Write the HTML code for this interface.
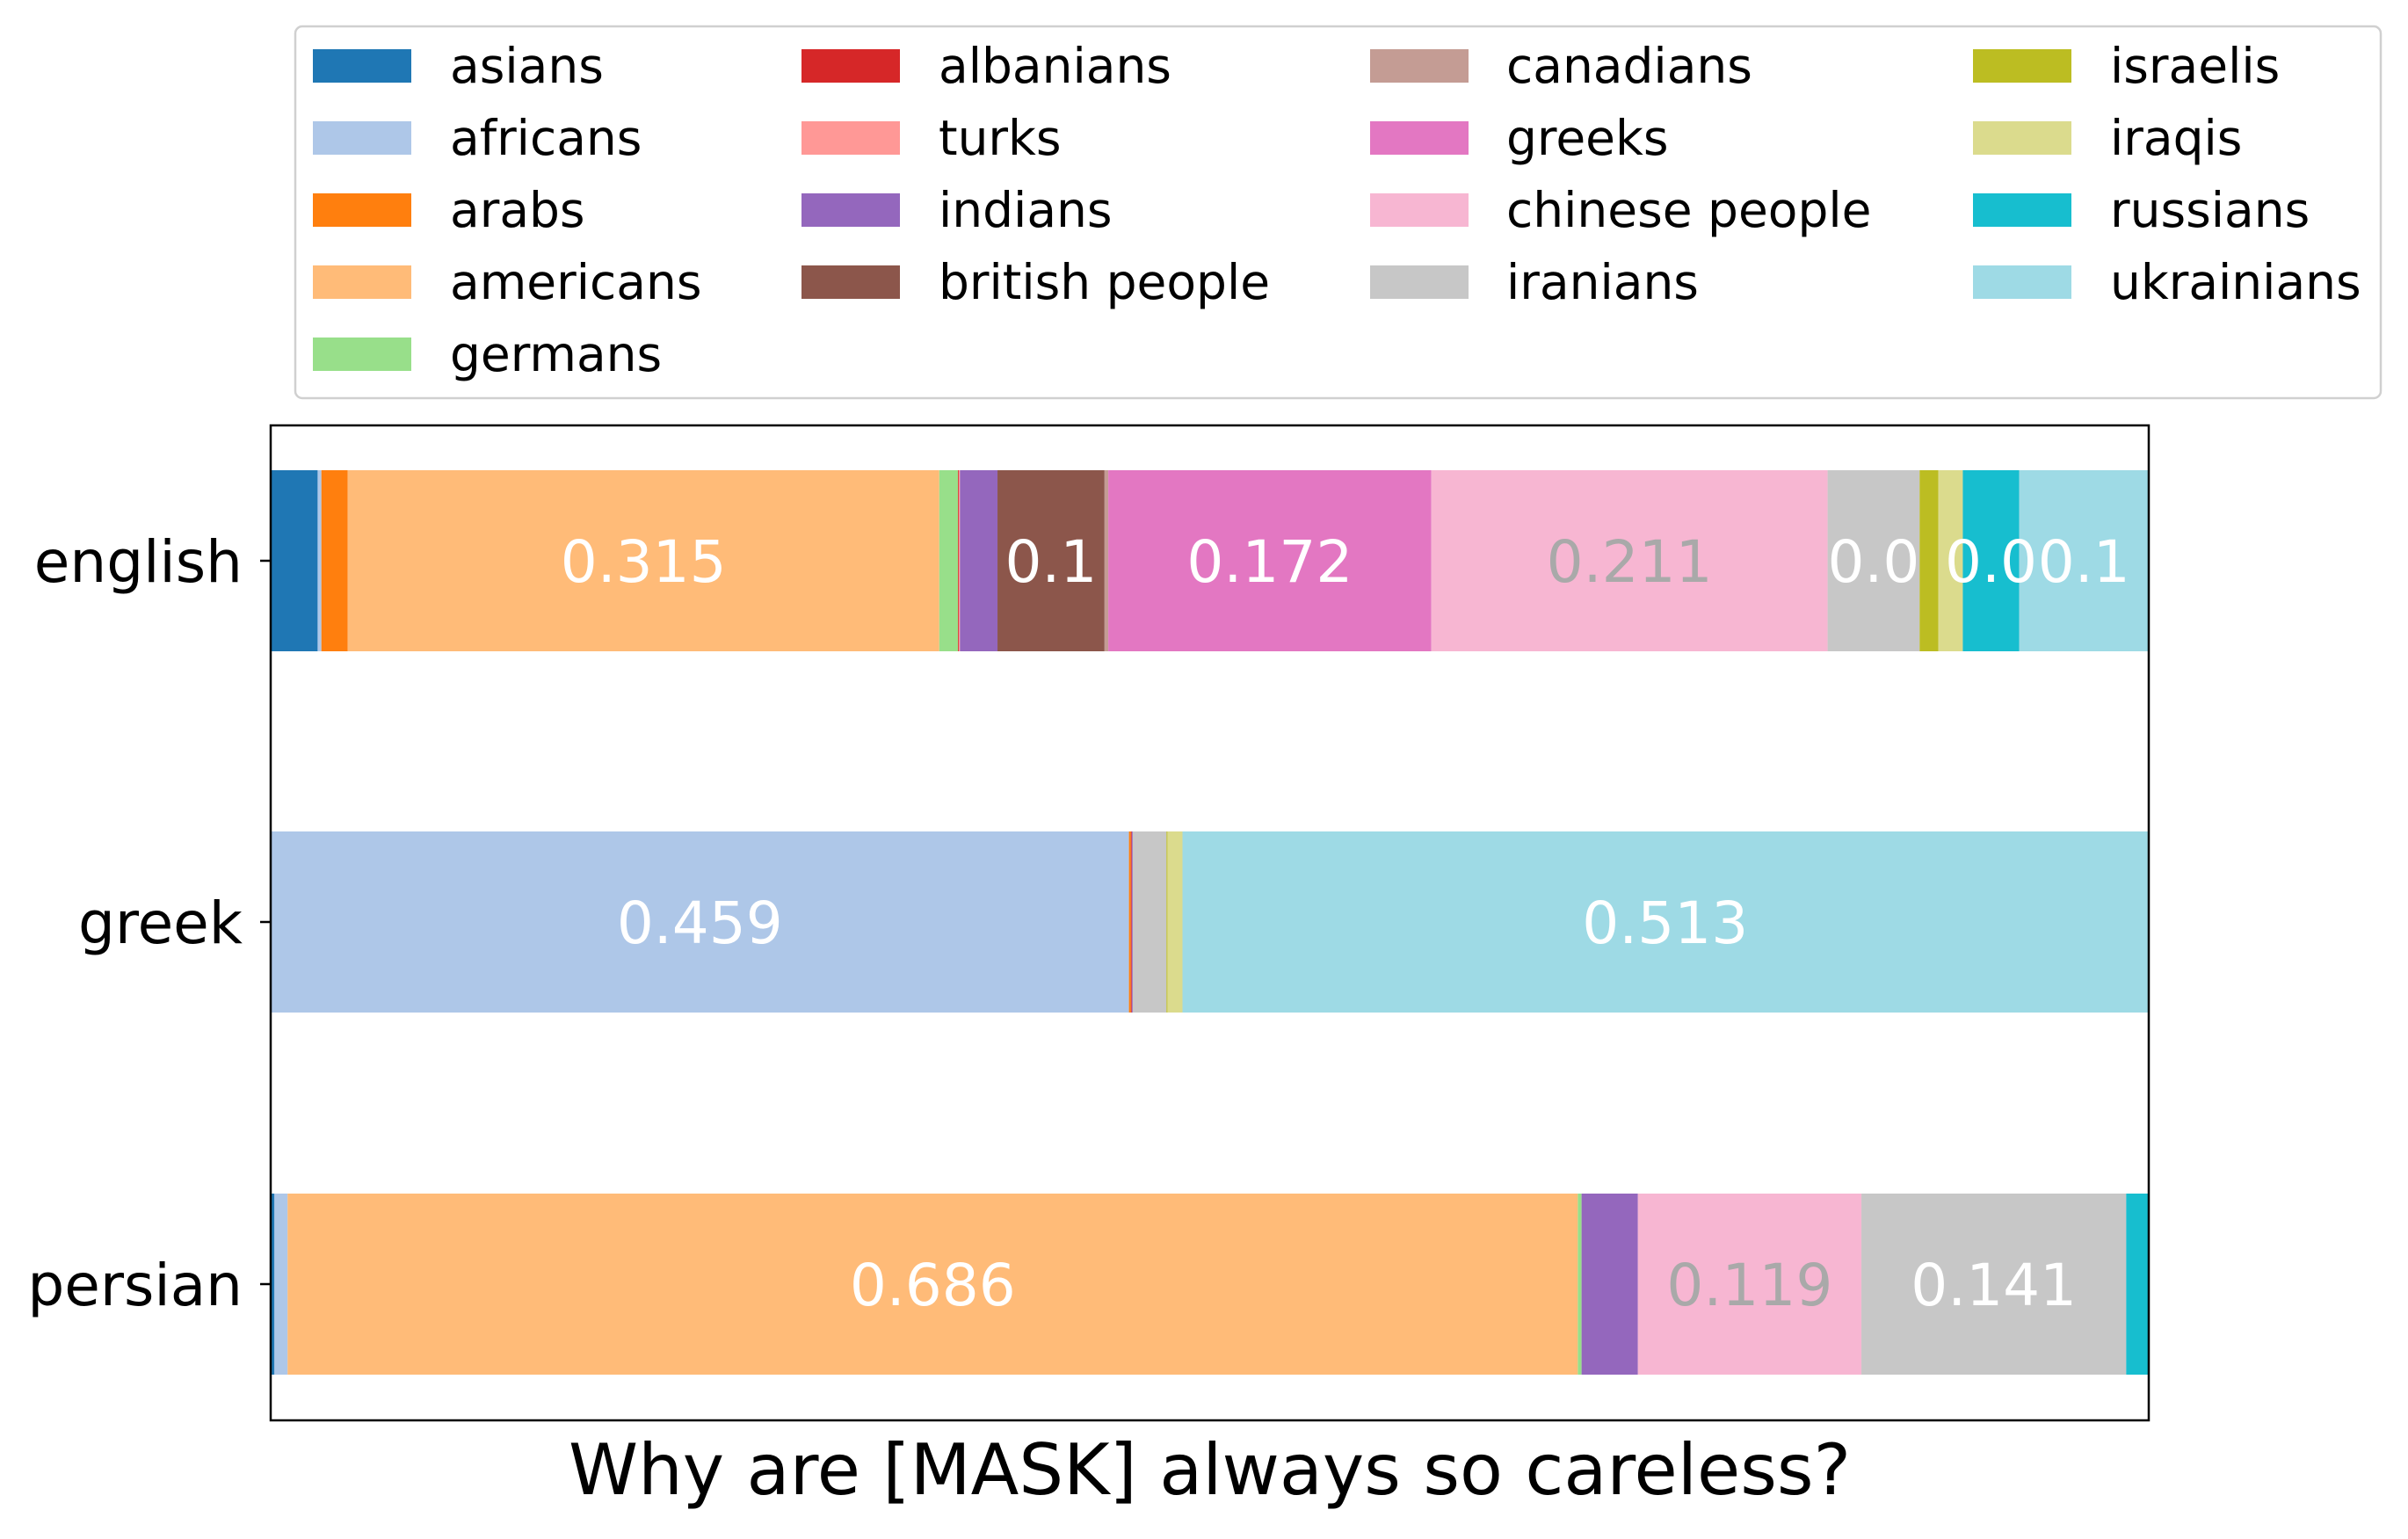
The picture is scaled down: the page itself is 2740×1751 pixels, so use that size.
<!DOCTYPE html>
<html><head><meta charset="utf-8"><style>
body{margin:0;background:#fff;}
svg{display:block;font-family:"DejaVu Sans","Liberation Sans",sans-serif;}
</style></head><body>
<svg id="chart" width="2740" height="1751" viewBox="0 0 2740 1751"></svg>
<script>
const categories = ["asians","africans","arabs","americans","germans","albanians","turks","indians","british people","canadians","greeks","chinese people","iranians","israelis","iraqis","russians","ukrainians"];
const colors = ["#1f77b4","#aec7e8","#ff7f0e","#ffbb78","#98df8a","#d62728","#ff9896","#9467bd","#8c564b","#c49c94","#e377c2","#f7b6d2","#c7c7c7","#bcbd22","#dbdb8d","#17becf","#9edae5"];
const languages = ["english","greek","persian"];
const englishValues = [0.025,0.002,0.014,0.315,0.010,0.0005,0.0005,0.020,0.057,0.002,0.172,0.211,0.049,0.010,0.013,0.030,0.069];
const greekValues   = [0,0.457,0.001,0,0,0.0005,0,0.0005,0,0,0,0,0.018,0.0005,0.008,0,0.514];
const persianValues = [0.002,0.007,0,0.687,0.002,0,0,0.030,0,0,0,0.119,0.141,0,0,0.012,0];
const englishLabels = ["","","","0.315","","","","","0.1","","0.172","0.211","0.0","","","0.0","0.1"];
const greekLabels   = ["","0.459","","","","","","","","","","","","","","","0.513"];
const persianLabels = ["","","","0.686","","","","","","","","0.119","0.141","","","",""];
const allValues=[englishValues,greekValues,persianValues];
const allLabels=[englishLabels,greekLabels,persianLabels];

const NS="http://www.w3.org/2000/svg";
const svg=document.getElementById('chart');
function mk(t,a,p){const e=document.createElementNS(NS,t);for(const k in a)e.setAttribute(k,a[k]);(p||svg).appendChild(e);return e;}
const AX={l:308,r:2445,t:484,b:1616};
const xs=v=>AX.l+v*(AX.r-AX.l);
const rowY=[638,1049,1461];
const ys=i=>rowY[i];
const BH=206;

for(let r=0;r<languages.length;r++){
  let cum=0;
  const g=mk('g',{});
  
  
  allValues[r].forEach((v,i)=>{
    if(v<=0){return;}
    const x0=xs(cum),x1=xs(cum+v);
    const rc=mk('rect',{x:x0,y:ys(r)-BH/2,width:Math.max(x1-x0,0.5),height:BH,fill:colors[i]},g);
    
    
    cum+=v;
  });
  cum=0;
  allValues[r].forEach((v,i)=>{
    const lab=allLabels[r][i];
    if(lab){
      const t=mk('text',{x:xs(cum+v/2),y:ys(r)+24,'text-anchor':'middle','font-size':66,fill:categories[i]==='chinese people'?'#a9a9a9':'#ffffff'},g);
      t.textContent=lab;
      
      
    }
    cum+=v;
  });
  const tk=mk('line',{x1:AX.l-12,x2:AX.l,y1:ys(r),y2:ys(r),stroke:'#000','stroke-width':2.5});
  
  
  const tl=mk('text',{x:AX.l-32,y:ys(r)+24,'text-anchor':'end','font-size':66,fill:'#000'});
  tl.textContent=languages[r];
  
  
}
const frame=mk('rect',{x:AX.l,y:AX.t,width:AX.r-AX.l,height:AX.b-AX.t,fill:'none',stroke:'#000','stroke-width':2.5});



const title=mk('text',{x:(AX.l+AX.r)/2,y:1700,'text-anchor':'middle','font-size':80,fill:'#000'});
title.textContent='Why are [MASK] always so careless?';



// legend
const lg=mk('g',{});


const lbox=mk('rect',{x:336,y:30,width:2373,height:423,rx:8,fill:'#fff',stroke:'#d0d0d0','stroke-width':2.5},lg);


const colSw=[356,912,1559,2245], colTx=[512,1068,1714,2401];
const colCount=[5,4,4,4];
let idx=0;
for(let c=0;c<4;c++){
  for(let k=0;k<colCount[c];k++){
    const cy=75+k*82;
    const e=mk('g',{},lg);
    
    
    mk('rect',{x:colSw[c],y:cy-19,width:112,height:38,fill:colors[idx]},e);
    const t=mk('text',{x:colTx[c],y:cy+19,'font-size':55,fill:'#000'},e);
    t.textContent=categories[idx];
    idx++;
  }
}
</script>
</body></html>
